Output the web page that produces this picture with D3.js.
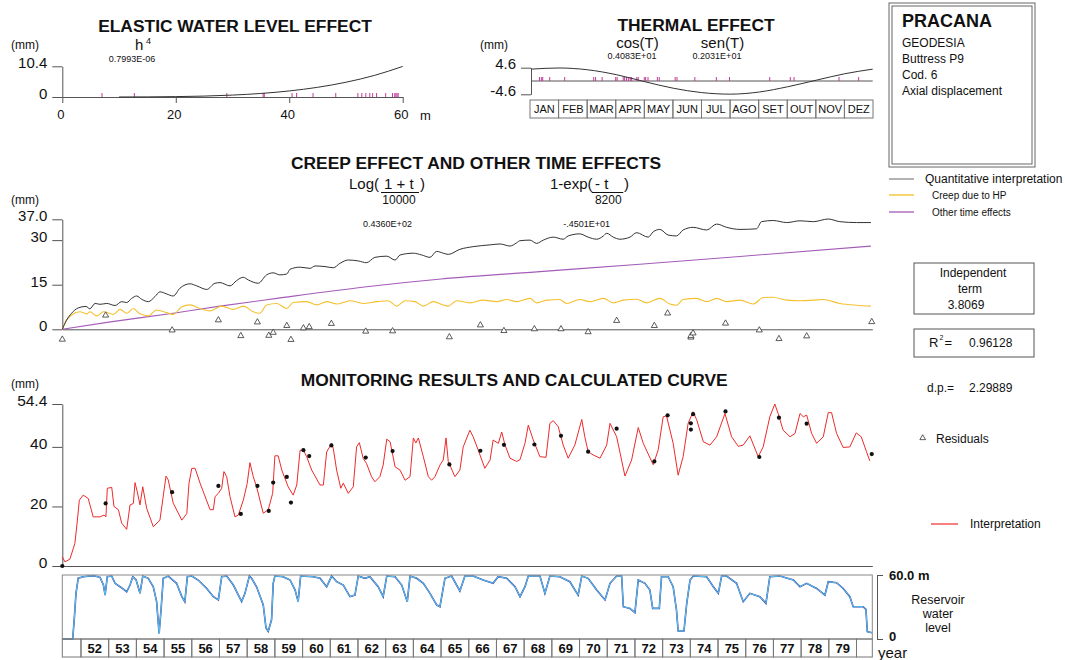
<!DOCTYPE html>
<html><head><meta charset="utf-8">
<script src="https://cdn.jsdelivr.net/npm/d3@7"></script>
<style>body{margin:0;background:#fff}svg{display:block;font-family:"Liberation Sans",Arial,sans-serif}</style>
</head><body><svg id="c" width="1065" height="660"></svg>
<script>
// ---------------- DATA ----------------
const elasticCurve = [[10,0.01],[15,0.04],[20,0.13],[25,0.31],[30,0.65],[35,1.2],[40,2.05],[45,3.28],[50,5.0],[55,7.3],[60,10.36]];
const elasticReadings = [7.0,12.7,29.0,35.4,35.6,40.5,41.3,44.2,48.2,52.1,52.8,53.5,54.2,54.7,55.4,57.0,58.2,58.6,58.8,59.0,59.2];
const elasticTicks = [0,20,40,60];

const months = ["JAN","FEB","MAR","APR","MAY","JUN","JUL","AGO","SET","OUT","NOV","DEZ"];
const thermalCurve = [[0,4.1],[30,4.5],[60,3.9],[91,2.2],[121,-0.2],[152,-2.5],[182,-4.0],[213,-4.55],[244,-3.8],[274,-2.0],[305,0.3],[335,2.5],[365,4.1]];
const thermalReadings = [9,11,12.5,20,36,67,69,76,90.5,92,98.5,100,102,104,106,107.5,113,114.5,121,122.5,125,135,137,154,156,175,198,212,255,277,281,329,350];

const years = ["52","53","54","55","56","57","58","59","60","61","62","63","64","65","66","67","68","69","70","71","72","73","74","75","76","77","78","79"];

const quantitative = [[1951.325,0],[1951.48,3.1],[1951.66,5.4],[1951.90,7.2],[1952.18,7.7],[1952.32,6.9],[1952.51,8.7],[1952.69,8.4],[1952.93,8.7],[1953.23,8.0],[1953.47,9.3],[1953.65,9.0],[1953.83,10.4],[1954.01,11.2],[1954.19,10.1],[1954.43,9.3],[1954.67,11.0],[1954.85,12.6],[1955.09,11.9],[1955.33,11.2],[1955.57,13.8],[1955.94,15.3],[1956.18,14.6],[1956.54,13.4],[1956.84,15.5],[1957.02,15.7],[1957.38,14.6],[1957.62,16.4],[1957.86,17.5],[1958.04,16.6],[1958.40,15.5],[1958.70,18.3],[1958.94,19.0],[1959.18,18.3],[1959.43,18.6],[1959.55,20.2],[1959.91,20.9],[1960.27,20.5],[1960.45,21.3],[1960.81,21.1],[1961.11,20.7],[1961.35,22.2],[1961.65,23.3],[1962.01,23.0],[1962.31,22.4],[1962.61,24.2],[1963.04,24.6],[1963.34,23.3],[1963.52,25.0],[1964.00,25.6],[1964.30,25.0],[1964.60,24.2],[1964.84,26.2],[1965.08,25.6],[1965.26,25.2],[1965.68,26.9],[1966.16,27.8],[1966.77,28.4],[1967.13,28.7],[1967.49,28.0],[1967.73,29.1],[1967.85,29.8],[1968.21,30.0],[1968.45,28.9],[1968.69,30.0],[1969.05,31.0],[1969.41,30.3],[1969.59,31.4],[1970.01,32.1],[1970.31,31.0],[1970.62,30.3],[1970.86,31.4],[1970.98,32.3],[1971.22,31.0],[1971.46,30.3],[1971.82,31.0],[1972.06,32.5],[1972.48,31.0],[1972.66,32.8],[1972.90,33.6],[1973.20,31.7],[1973.50,31.4],[1973.74,33.4],[1974.10,34.3],[1974.59,33.4],[1974.95,35.4],[1975.31,34.3],[1975.79,33.6],[1976.39,33.8],[1976.57,36.2],[1976.99,36.6],[1977.48,35.9],[1977.96,36.5],[1978.44,36.2],[1978.98,37.1],[1979.40,36.2],[1980.00,35.9],[1980.52,35.9]];

const creepHP = [[1951.325,0],[1951.48,3.1],[1951.66,4.8],[1951.96,5.9],[1952.21,5.2],[1952.32,5.9],[1952.57,4.5],[1952.81,5.9],[1953.17,5.0],[1953.41,6.7],[1953.65,5.4],[1953.89,7.0],[1954.13,5.2],[1954.43,4.5],[1954.73,6.5],[1955.09,5.6],[1955.33,5.0],[1955.64,7.6],[1955.94,8.2],[1956.30,7.0],[1956.66,6.2],[1957.08,7.8],[1957.50,6.7],[1957.86,7.8],[1958.22,5.9],[1958.46,5.4],[1958.70,8.2],[1959.07,8.7],[1959.43,7.0],[1959.66,9.0],[1960.15,9.3],[1960.51,8.2],[1960.87,9.3],[1961.23,8.5],[1961.71,9.6],[1962.19,8.7],[1962.68,9.3],[1963.09,9.6],[1963.40,7.8],[1963.70,9.6],[1964.06,9.3],[1964.36,7.8],[1964.72,9.3],[1965.08,8.2],[1965.26,7.8],[1965.56,9.6],[1966.04,8.9],[1966.52,9.8],[1967.01,9.3],[1967.37,10.0],[1967.73,9.3],[1968.21,10.4],[1968.45,8.9],[1968.81,9.8],[1969.29,10.0],[1969.53,8.7],[1970.01,10.0],[1970.38,9.3],[1970.86,10.4],[1971.22,8.9],[1971.58,9.8],[1972.06,10.1],[1972.42,8.9],[1972.90,10.4],[1973.26,8.5],[1973.50,8.1],[1973.74,10.0],[1974.23,10.4],[1974.59,9.3],[1974.95,10.4],[1975.31,9.3],[1975.79,9.8],[1976.27,8.5],[1976.63,10.7],[1976.99,10.8],[1977.48,9.8],[1977.96,9.6],[1978.44,9.8],[1978.80,10.0],[1979.40,8.7],[1980.00,8.1],[1980.52,7.8]];

const otherTime = [[1951.325,0],[1953.0,2.4],[1955.33,5.4],[1957.02,7.8],[1959.07,10.4],[1962.31,14.3],[1965.0,16.9],[1968.57,19.4],[1972.18,21.9],[1975.79,24.5],[1980.52,28.0]];

const obsT = [1951.325,1952.89,1955.29,1956.96,1957.77,1958.37,1958.78,1958.94,1959.43,1959.58,1960.03,1960.24,1961.04,1962.28,1963.25,1965.30,1966.42,1967.27,1968.37,1969.33,1970.31,1971.34,1972.70,1973.18,1974.02,1974.02,1974.10,1975.27,1976.49,1977.20,1978.20,1980.55];
const obsV = [0,21.0,24.8,26.9,17.5,26.9,18.5,28.0,29.9,21.3,38.9,36.9,40.5,36.4,38.6,34.1,38.7,40.7,40.8,43.7,38.4,46.1,35.1,50.6,47.9,45.8,51.0,51.9,36.6,49.8,47.8,37.6];
const residuals = [-3.4,4.7,-0.3,3.1,-2.2,2.4,-2.1,-1.1,1.2,-3.5,0.4,0.8,1.9,-0.7,-0.6,-2.6,1.4,-0.5,0.1,0.1,-0.9,2.9,1.2,5.4,-2.7,-2.2,-1.3,2.0,-0.3,-3.2,-2.3,2.5];

const calculated = [[1951.325,3.1],[1951.42,1.4],[1951.60,2.3],[1951.78,7.6],[1951.87,15.4],[1951.94,22.1],[1952.08,23.8],[1952.26,22.7],[1952.44,16.5],[1952.69,16.5],[1952.83,17.1],[1952.90,16.5],[1952.95,26.1],[1953.11,26.4],[1953.19,20.0],[1953.35,18.9],[1953.47,14.4],[1953.65,12.3],[1953.77,20.5],[1953.89,21.0],[1953.95,28.0],[1954.03,25.0],[1954.13,20.5],[1954.23,26.6],[1954.37,19.4],[1954.61,13.2],[1954.85,15.4],[1955.07,30.2],[1955.15,28.9],[1955.33,21.1],[1955.64,15.4],[1955.82,17.6],[1955.90,27.8],[1956.00,32.8],[1956.12,32.8],[1956.30,27.8],[1956.66,18.9],[1956.78,18.9],[1956.84,23.3],[1956.96,24.4],[1957.08,26.1],[1957.16,31.7],[1957.26,30.0],[1957.38,23.3],[1957.56,16.5],[1957.68,17.1],[1957.86,22.1],[1958.00,27.7],[1958.10,34.7],[1958.22,30.0],[1958.34,26.6],[1958.58,17.7],[1958.76,18.9],[1958.92,24.4],[1959.00,37.0],[1959.12,37.0],[1959.25,32.2],[1959.48,26.6],[1959.66,23.8],[1959.79,27.2],[1959.91,38.9],[1960.03,38.9],[1960.15,36.7],[1960.33,32.2],[1960.63,27.2],[1960.75,27.2],[1960.87,38.3],[1961.05,41.1],[1961.11,39.4],[1961.23,32.2],[1961.38,26.1],[1961.47,27.8],[1961.65,24.4],[1961.83,26.6],[1961.95,40.0],[1962.05,41.4],[1962.19,36.1],[1962.31,34.4],[1962.49,30.0],[1962.61,28.3],[1962.79,30.0],[1962.91,33.9],[1963.04,42.6],[1963.16,41.7],[1963.34,33.3],[1963.52,32.2],[1963.70,28.8],[1963.88,30.0],[1964.00,43.0],[1964.09,41.3],[1964.18,43.0],[1964.36,36.7],[1964.54,30.0],[1964.66,28.8],[1964.78,30.0],[1964.96,33.9],[1965.08,35.6],[1965.18,43.0],[1965.26,35.1],[1965.50,30.0],[1965.68,32.2],[1965.80,40.0],[1966.04,45.6],[1966.16,43.4],[1966.34,39.0],[1966.58,32.8],[1966.77,35.6],[1966.88,42.3],[1967.07,41.2],[1967.19,45.0],[1967.31,40.6],[1967.49,36.2],[1967.73,35.1],[1967.85,35.7],[1968.03,41.2],[1968.15,47.3],[1968.33,42.3],[1968.57,36.7],[1968.79,36.5],[1968.93,47.9],[1969.05,48.8],[1969.23,46.8],[1969.41,40.6],[1969.59,36.2],[1969.83,40.6],[1970.08,49.2],[1970.19,43.4],[1970.31,38.4],[1970.49,37.3],[1970.74,36.2],[1970.98,40.6],[1971.10,47.9],[1971.34,43.4],[1971.64,30.2],[1971.88,35.6],[1972.12,46.5],[1972.30,41.2],[1972.66,34.0],[1972.84,39.0],[1973.02,50.1],[1973.14,50.4],[1973.38,41.2],[1973.56,30.5],[1973.74,36.7],[1973.92,47.9],[1974.10,51.8],[1974.23,49.1],[1974.47,41.7],[1974.71,40.6],[1974.95,43.4],[1975.25,51.2],[1975.49,43.4],[1975.73,40.2],[1975.91,40.6],[1976.15,43.7],[1976.45,36.7],[1976.63,40.0],[1976.87,50.1],[1977.05,54.4],[1977.17,51.2],[1977.35,45.6],[1977.60,43.4],[1977.78,44.5],[1977.96,51.2],[1978.08,50.1],[1978.20,50.7],[1978.38,44.5],[1978.56,41.2],[1978.80,43.4],[1978.98,51.5],[1979.10,51.5],[1979.28,44.5],[1979.52,39.8],[1979.76,40.0],[1979.99,44.7],[1980.17,43.4],[1980.36,38.4],[1980.48,35.3]];

const reservoir = [[1951.325,0],[1951.70,0],[1951.75,16],[1951.82,43],[1951.90,57],[1952.08,58.4],[1952.44,59.4],[1952.69,57.8],[1952.81,50.6],[1952.87,41.2],[1952.95,58.4],[1953.11,59],[1953.23,52.2],[1953.41,49],[1953.65,44.3],[1953.77,50.6],[1953.87,58.4],[1953.99,55.3],[1954.13,42.8],[1954.23,59],[1954.43,56.9],[1954.61,49],[1954.73,35],[1954.82,5.3],[1954.89,27.2],[1954.97,56.9],[1955.15,59],[1955.45,52.2],[1955.64,39.7],[1955.75,35],[1955.84,58.4],[1956.00,59],[1956.23,55.3],[1956.54,47.4],[1956.78,39.7],[1956.96,36.6],[1957.08,58.4],[1957.26,59],[1957.50,50.6],[1957.80,35],[1957.92,42.8],[1958.08,59],[1958.16,56.9],[1958.34,49],[1958.58,31.9],[1958.68,10.3],[1958.76,7.2],[1958.88,18],[1958.94,52.2],[1959.00,59],[1959.30,58.4],[1959.55,55.3],[1959.73,45.9],[1959.84,35],[1959.93,59],[1960.39,58.4],[1960.63,56.9],[1960.87,49],[1961.05,59],[1961.23,53.7],[1961.47,50.6],[1961.71,39.7],[1961.89,41.2],[1962.01,59],[1962.25,56.9],[1962.43,58.4],[1962.73,49],[1962.91,39.7],[1963.04,59],[1963.34,58.4],[1963.58,50.6],[1963.78,35],[1963.88,59],[1964.12,56.9],[1964.36,52.2],[1964.60,42.8],[1964.84,31.9],[1964.96,30.3],[1965.14,56.9],[1965.38,59],[1965.68,45.0],[1965.86,59],[1966.16,59],[1966.52,55.3],[1966.88,52.2],[1967.06,58.4],[1967.37,56.9],[1967.67,49],[1967.85,39.7],[1968.03,49],[1968.15,59],[1968.57,59],[1968.75,42.8],[1968.93,59],[1969.29,58.4],[1969.65,53.7],[1969.95,41.2],[1970.08,59],[1970.31,56.9],[1970.62,45.9],[1970.92,36.6],[1971.10,52.2],[1971.34,59],[1971.52,59],[1971.58,30.3],[1971.82,28.7],[1972.00,24.7],[1972.12,55.3],[1972.36,52.2],[1972.54,45.9],[1972.64,28.7],[1972.88,28.7],[1972.96,58.4],[1973.20,58.4],[1973.38,49],[1973.50,27.2],[1973.56,7.5],[1973.77,7.5],[1973.87,33.4],[1973.99,55.3],[1974.11,59],[1974.59,58.4],[1974.83,49],[1975.01,42.8],[1975.13,59],[1975.31,59],[1975.67,52.2],[1975.91,35],[1976.15,42.8],[1976.51,39.7],[1976.73,33.4],[1976.87,58.4],[1977.23,59],[1977.72,55.3],[1977.96,49],[1978.20,52.2],[1978.56,47.4],[1978.86,41.2],[1978.98,53.7],[1979.28,52.8],[1979.52,47.4],[1979.76,39.7],[1979.88,30.3],[1980.24,30.3],[1980.34,27.8],[1980.39,6.9],[1980.55,5.9]];

// ---------------- DRAW ----------------
const svg = d3.select("#c");
const AX = "#555";
function styleAxis(g, fs, weight){
  g.selectAll("path,line").attr("stroke", AX).attr("stroke-width",1);
  g.selectAll("text").attr("font-size", fs).attr("fill","#111").attr("font-weight", weight||"normal");
}
function text(x,y,s,fs,opt){
  opt = opt||{};
  const t = svg.append("text").attr("x",x).attr("y",y).text(s).attr("font-size",fs).attr("fill",opt.fill||"#111");
  if(opt.bold) t.attr("font-weight","bold");
  if(opt.anchor) t.attr("text-anchor",opt.anchor);
  return t;
}

// ---- Elastic panel
const ex = d3.scaleLinear().domain([0,60]).range([62.3,402.7]);
const ey = d3.scaleLinear().domain([0,10.4]).range([97,66.3]);
text(235,32,"ELASTIC WATER LEVEL EFFECT",17.4,{bold:true,anchor:"middle"});
text(11,49,"(mm)",12);
text(135,50,"h",15);
text(146,44,"4",9);
text(132,61.5,"0.7993E-06",9,{anchor:"middle"});
let g = svg.append("g").attr("transform","translate(62.3,0)")
  .call(d3.axisLeft(ey).tickValues([0,10.4]).tickSize(10).tickPadding(5).tickSizeOuter(0).tickFormat(d=>d===0?"0":d.toFixed(1)));
styleAxis(g,15); g.selectAll("text").attr("dy","0.1em");
g = svg.append("g").attr("transform","translate(0,97)")
  .call(d3.axisBottom(ex).tickValues(elasticTicks).tickSize(6).tickPadding(7).tickSizeOuter(0));
styleAxis(g,13); g.selectAll("text").attr("dx",-2);
text(420,120,"m",13);
svg.append("g").selectAll("line").data(elasticReadings).join("line")
  .attr("x1",d=>ex(d)).attr("x2",d=>ex(d)).attr("y1",ey(0)-4).attr("y2",ey(0))
  .attr("stroke","#c23c96").attr("stroke-width",1);
svg.append("path").datum(elasticCurve).attr("fill","none").attr("stroke","#333").attr("stroke-width",1)
  .attr("d",d3.line().x(d=>ex(d[0])).y(d=>ey(d[1])).curve(d3.curveMonotoneX));

// ---- Thermal panel
const tx = d3.scaleLinear().domain([0,365]).range([531,872.7]);
const ty = d3.scaleLinear().domain([-4.6,4.6]).range([94.3,67.7]);
text(696,30.5,"THERMAL EFFECT",17.4,{bold:true,anchor:"middle"});
text(480,48.5,"(mm)",12);
text(637.5,47.5,"cos(T)",15,{anchor:"middle"});
text(722.5,47.5,"sen(T)",15,{anchor:"middle"});
text(632,59,"0.4083E+01",9,{anchor:"middle"});
text(717,59,"0.2031E+01",9,{anchor:"middle"});
g = svg.append("g").attr("transform","translate(531,0)")
  .call(d3.axisLeft(ty).tickValues([-4.6,4.6]).tickSize(10).tickPadding(5).tickSizeOuter(0).tickFormat(d=>d.toFixed(1)));
styleAxis(g,15); g.selectAll("text").attr("dy","0.05em");
svg.append("line").attr("x1",tx(0)).attr("x2",tx(365)).attr("y1",ty(0)).attr("y2",ty(0)).attr("stroke",AX);
svg.append("g").selectAll("line").data(thermalReadings).join("line")
  .attr("x1",d=>tx(d)).attr("x2",d=>tx(d)).attr("y1",ty(0)-4).attr("y2",ty(0))
  .attr("stroke","#c23c96").attr("stroke-width",1);
svg.append("path").datum(thermalCurve).attr("fill","none").attr("stroke","#333").attr("stroke-width",1)
  .attr("d",d3.line().x(d=>tx(d[0])).y(d=>ty(d[1])).curve(d3.curveMonotoneX));
const mb = d3.scaleBand().domain(months).range([530,873]);
const mg = svg.append("g").selectAll("g").data(months).join("g");
mg.append("rect").attr("x",d=>mb(d)).attr("y",100).attr("width",mb.bandwidth()).attr("height",18)
  .attr("fill","none").attr("stroke","#777");
mg.append("text").attr("x",d=>mb(d)+mb.bandwidth()/2).attr("y",113.3).attr("text-anchor","middle")
  .attr("font-size",11).attr("fill","#111").text(d=>d);

// ---- Pracana box + legend
svg.append("rect").attr("x",889).attr("y",3).attr("width",146).attr("height",164).attr("fill","none").attr("stroke","#666");
svg.append("rect").attr("x",892).attr("y",6).attr("width",140).attr("height",158).attr("fill","none").attr("stroke","#666");
text(902,27,"PRACANA",18,{bold:true});
text(902,46.5,"GEODESIA",12);
text(902,63,"Buttress P9",12);
text(902,79,"Cod. 6",12);
text(902,95,"Axial displacement",12);
const legendItems = [["Quantitative interpretation","#999",179,925,12],["Creep due to HP","#f5c842",195,932,10],["Other time effects","#b070c0",212,932,10]];
legendItems.forEach(l=>{
  svg.append("line").attr("x1",889).attr("x2",914).attr("y1",l[2]).attr("y2",l[2]).attr("stroke",l[1]).attr("stroke-width",1.5);
  text(l[3],l[2]+l[4]*0.36,l[0],l[4]);
});

// ---- Shared time scale
const xT = d3.scaleLinear().domain([1951.325,1980.57]).range([62.3,872.3]);

// ---- Creep panel
const cy = d3.scaleLinear().domain([0,37]).range([329.3,219.3]);
text(476,168.5,"CREEP EFFECT AND OTHER TIME EFFECTS",17.4,{bold:true,anchor:"middle"});
text(11,203.5,"(mm)",12);
text(349,189,"Log(",15);
text(384,189,"1 + t",15);
text(420,189,")",15);
svg.append("line").attr("x1",381).attr("x2",419).attr("y1",192.5).attr("y2",192.5).attr("stroke","#111");
text(399,204,"10000",12,{anchor:"middle"});
text(550,189,"1-exp(",15);
text(595,189,"- t",15);
text(624,189,")",15);
svg.append("line").attr("x1",591.7).attr("x2",623.3).attr("y1",192.5).attr("y2",192.5).attr("stroke","#111");
text(608.3,204,"8200",12,{anchor:"middle"});
text(387.5,227,"0.4360E+02",9,{anchor:"middle"});
text(586.7,226.5,"-.4501E+01",9,{anchor:"middle"});
g = svg.append("g").attr("transform","translate(62.3,0)")
  .call(d3.axisLeft(cy).tickValues([0,15,30,37]).tickSize(10).tickPadding(5).tickSizeOuter(0).tickFormat(d=>d===37?"37.0":d));
styleAxis(g,15); g.selectAll("text").attr("dy","0.1em");
g = svg.append("g").attr("transform",`translate(0,${cy(0)})`).call(d3.axisBottom(xT).tickValues([]).tickSizeOuter(0));
styleAxis(g,10);
svg.append("path").datum(otherTime).attr("fill","none").attr("stroke","#a45cb8").attr("stroke-width",1.1)
  .attr("d",d3.line().x(d=>xT(d[0])).y(d=>cy(d[1])).curve(d3.curveMonotoneX));
svg.append("path").datum(creepHP).attr("fill","none").attr("stroke","#f5c030").attr("stroke-width",1.1)
  .attr("d",d3.line().x(d=>xT(d[0])).y(d=>cy(d[1])).curve(d3.curveMonotoneX));
svg.append("path").datum(quantitative).attr("fill","none").attr("stroke","#333").attr("stroke-width",1)
  .attr("d",d3.line().x(d=>xT(d[0])).y(d=>cy(d[1])).curve(d3.curveMonotoneX));
const tri = d3.symbol().type(d3.symbolTriangle).size(16);
svg.append("g").selectAll("path").data(residuals).join("path")
  .attr("d",tri).attr("transform",(d,i)=>`translate(${xT(obsT[i])},${cy(d)})`)
  .attr("fill","#fff").attr("stroke","#333").attr("stroke-width",0.8);

// ---- Right info boxes
svg.append("rect").attr("x",914).attr("y",263).attr("width",120).attr("height",51).attr("fill","none").attr("stroke","#555");
text(973,276.5,"Independent",12,{anchor:"middle"});
text(970,293.3,"term",12,{anchor:"middle"});
text(966,309.3,"3.8069",12,{anchor:"middle"});
svg.append("rect").attr("x",914).attr("y",329).attr("width",120).attr("height",28).attr("fill","none").attr("stroke","#555");
text(929,347.3,"R",13);
text(939.5,339.5,"2",7);
text(944.5,347.3,"=",13);
text(969,347.3,"0.96128",12);
text(927,392,"d.p.=",12);
text(969,392,"2.29889",12);
svg.append("path").attr("d",d3.symbol().type(d3.symbolTriangle).size(14)).attr("transform","translate(922.7,438)")
  .attr("fill","#fff").attr("stroke","#333").attr("stroke-width",0.8);
text(936,442.6,"Residuals",12);
svg.append("line").attr("x1",931).attr("x2",958).attr("y1",524).attr("y2",524).attr("stroke","#ee2a2a").attr("stroke-width",1.2);
text(970,528.3,"Interpretation",12);

// ---- Monitoring panel
const my = d3.scaleLinear().domain([0,54.4]).range([566,404]);
text(514.2,386,"MONITORING RESULTS AND CALCULATED CURVE",17.4,{bold:true,anchor:"middle"});
text(11,388,"(mm)",12);
g = svg.append("g").attr("transform","translate(62.3,0)")
  .call(d3.axisLeft(my).tickValues([0,20,40,54.4]).tickSize(10).tickPadding(5).tickSizeOuter(0).tickFormat(d=>d));
styleAxis(g,15.5); g.selectAll("text").attr("dy","0.1em");
g = svg.append("g").attr("transform",`translate(0,${my(0)})`).call(d3.axisBottom(xT).tickValues([]).tickSizeOuter(0));
styleAxis(g,10);
svg.append("path").datum(calculated).attr("fill","none").attr("stroke","#ee2a2a").attr("stroke-width",1)
  .attr("d",d3.line().x(d=>xT(d[0])).y(d=>my(d[1])));
svg.append("g").selectAll("circle").data(obsV).join("circle")
  .attr("cx",(d,i)=>xT(obsT[i])).attr("cy",d=>my(d)).attr("r",2.1).attr("fill","#111");

// ---- Reservoir panel
const ry = d3.scaleLinear().domain([0,60]).range([639,575]);
svg.append("path").datum(reservoir).attr("fill","none").attr("stroke","#3346a8").attr("stroke-width",1.6)
  .attr("d",d3.line().x(d=>xT(d[0])).y(d=>ry(d[1])));
svg.append("path").datum(reservoir).attr("fill","none").attr("stroke","#5cc6ee").attr("stroke-width",1)
  .attr("d",d3.line().x(d=>xT(d[0])).y(d=>ry(d[1])));
svg.append("rect").attr("x",xT.range()[0]).attr("y",575).attr("width",xT.range()[1]-xT.range()[0]).attr("height",64)
  .attr("fill","none").attr("stroke","#888");
const yg = svg.append("g").selectAll("g").data(years).join("g");
yg.append("rect").attr("x",d=>xT(1900+ +d)).attr("y",639).attr("width",d=>xT(1901+ +d)-xT(1900+ +d)).attr("height",18)
  .attr("fill","none").attr("stroke","#777");
yg.append("text").attr("x",d=>(xT(1900+ +d)+xT(1901+ +d))/2).attr("y",652.8).attr("text-anchor","middle")
  .attr("font-size",13).attr("font-weight","bold").attr("fill","#111").text(d=>d);
svg.append("rect").attr("x",xT.range()[0]).attr("y",639).attr("width",xT(1952)-xT.range()[0]).attr("height",18).attr("fill","none").attr("stroke","#777");
svg.append("rect").attr("x",xT(1980)).attr("y",639).attr("width",xT.range()[1]-xT(1980)).attr("height",18).attr("fill","none").attr("stroke","#777");
g = svg.append("g").attr("transform","translate(877,0)")
  .call(d3.axisRight(ry).tickValues([0,60]).tickSize(6).tickPadding(6).tickSizeOuter(0).tickFormat(d=>d===60?"60.0 m":"0"));
styleAxis(g,13,"bold");
g.selectAll(".tick text").filter(d=>d===0).attr("dy","0.1em");
text(878,658,"year",15);
text(938,604,"Reservoir",12.5,{anchor:"middle"});
text(938,618,"water",12.5,{anchor:"middle"});
text(938,632,"level",12.5,{anchor:"middle"});
</script></body></html>
